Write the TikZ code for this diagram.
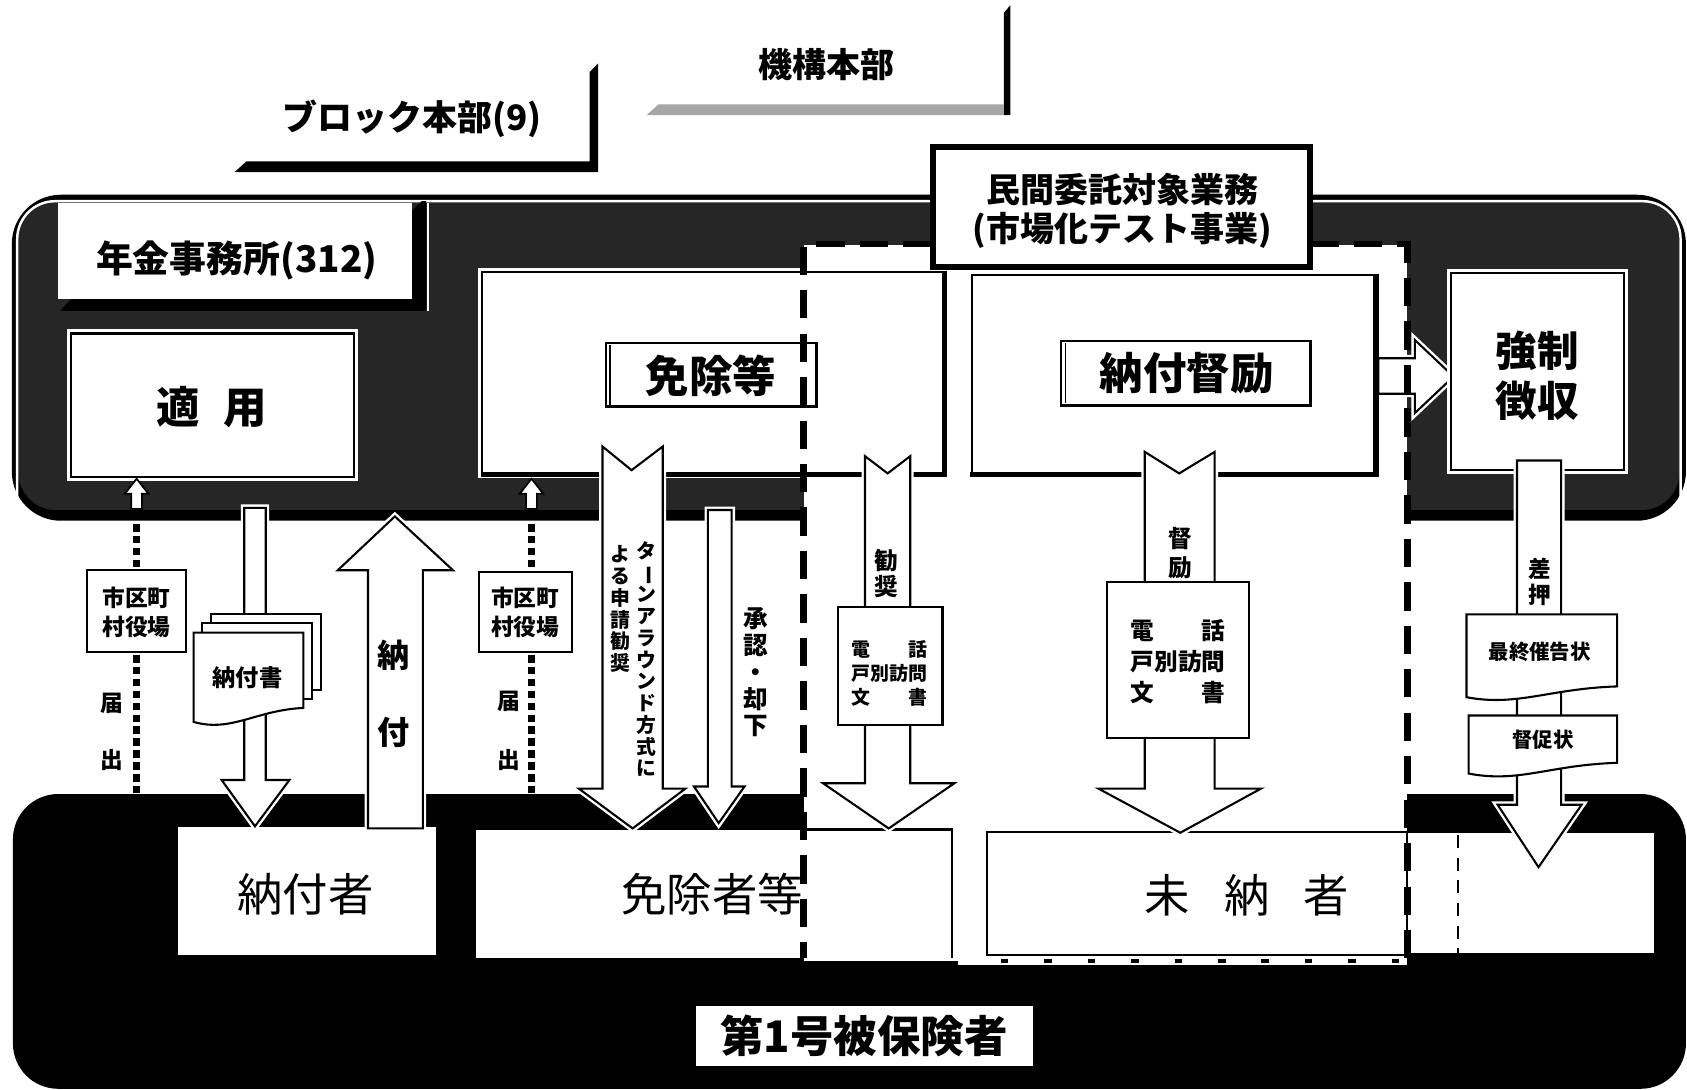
\documentclass[tikz,border=0pt]{standalone}
\usepackage{fontspec}
\setmainfont{Noto Sans CJK JP}
\usepackage{graphicx}
\colorlet{bandgray}{black!85}
\newcommand{\myfs}[2]{\fontsize{#1}{#2}\selectfont}
\newcommand{\vbar}{\rotatebox[origin=c]{-90}{ー}}
\begin{document}
\begin{tikzpicture}[x=0.02cm,y=-0.02cm,
  lbl/.style={inner sep=0pt, align=center, text=black},
  arrowbody/.style={draw=black, fill=white, line width=1.1pt, line join=miter, preaction={draw=white, line width=3.6pt}},
  whitebox/.style={draw=black, fill=white, line width=1.1pt},
  bigdash/.style={line width=3.4pt, dash pattern=on 15pt off 8pt},
  smalldash/.style={line width=1.4pt, dash pattern=on 7pt off 5pt},
  dotline/.style={line width=3.6pt, dash pattern=on 4pt off 2.3pt},
  smallup/.style={draw=black, fill=white, line width=0.9pt},
]
\useasboundingbox (0,0) rectangle (1568,1013);

% ---------- top tabs
\fill[black] (933,12) -- (939,5) -- (939,107) -- (933,107) -- cycle;
\fill[black!35] (601,107) -- (612,97) -- (933,97) -- (933,107) -- cycle;
\node[lbl, font=\myfs{18}{18}\bfseries] (kiko) at (768,60) {機構本部};

\fill[black] (548,67) -- (556,59) -- (556,160) -- (218,160) -- (229,150) -- (548,150) -- cycle;
\node[lbl, font=\myfs{18.5}{18.5}\bfseries] (block) at (383,110) {ブロック本部(9)};

% ---------- band (年金事務所)
\fill[black, rounded corners=26] (11,181) rectangle (1567,484);
\fill[bandgray, rounded corners=20] (17,187) rectangle (1561,474);
\draw[white, line width=1.3pt, rounded corners=20] (16,470) -- (16,187) -- (1562,187) -- (1562,470);

% ---------- bottom black region
\fill[black, rounded corners=24] (12,738) rectangle (1567,1012);

% ---------- white region of 市場化テスト
\fill[white] (747,228) rectangle (1308,893);

% ---------- 年金事務所 tab
\fill[black] (383,196) -- (392,187) -- (396,187) -- (396,289) -- (56,289) -- (66,278) -- (383,278) -- cycle;
\fill[white] (54,189) rectangle (383,278);
\draw[white, line width=0.8pt] (398,189) -- (398,289);
\node[lbl, font=\myfs{19.5}{19.5}\bfseries] (nenkin) at (220,242) {年金事務所(312)};

% ---------- 適用
\fill[white] (62,306) rectangle (333,447);
\draw[whitebox] (66,310) rectangle (329,443);
\node[lbl, font=\myfs{23}{23}\bfseries] (tekiyo) at (197,378) {適\hspace{0.55em}用};

% ---------- 免除等
\fill[white] (444,249) rectangle (881,444);
\draw[line width=1.1pt, fill=white] (448,253) rectangle (877,440);
\draw[line width=2.8pt] (878,252) -- (878,441) -- (447,441);
\draw[line width=1.3pt] (563,319) rectangle (759,378);
\draw[line width=0.6pt] (567,321) -- (567,376);
\node[lbl, font=\myfs{23}{23}\bfseries] (menjo) at (661,349) {免除等};

% ---------- arrow 納付督励 -> 強制徴収
\draw[arrowbody] (1281,333) -- (1315,333) -- (1315,316) -- (1351,350) -- (1315,384) -- (1315,366) -- (1281,366) -- cycle;

% ---------- 納付督励
\draw[line width=1.1pt, fill=white] (903,256) rectangle (1278,440);
\draw[line width=2.8pt] (1279,255) -- (1279,441) -- (902,441);
\draw[line width=1.3pt] (986,317) rectangle (1218,377);
\draw[line width=0.6pt] (990,319) -- (990,375);
\node[lbl, font=\myfs{23}{23}\bfseries] (nofutoku) at (1103,347) {納付督励};

% ---------- 強制徴収
\fill[white] (1345,250) rectangle (1513,441);
\draw[whitebox] (1349,254) rectangle (1509,437);
\node[lbl, font=\myfs{22}{26.7}\bfseries] (kyosei) at (1429,349) {強制\\徴収};

% ---------- 民間委託
\draw[line width=3.2pt, fill=white] (867,137) rectangle (1218,248);
\node[lbl, font=\myfs{18}{21}\bfseries] (minkan) at (1043,196) {民間委託対象業務\\(市場化テスト事業)};

% ---------- bottom boxes
\fill[white] (165,769) rectangle (405,888);
\node[lbl, font=\myfs{24}{24}] (nofusha) at (284,831) {納付者};
\fill[white] (442,771) rectangle (885,890);
\draw[line width=1.1pt] (747,771) -- (885,771) -- (885,890);
\node[lbl, font=\myfs{24}{24}] (menjosha) at (662,831) {免除者等};
\draw[line width=1.1pt, fill=white] (917,773) rectangle (1308,888);
\fill[white] (890,889) rectangle (1308,897);
\draw[black, line width=2pt, dash pattern=on 4pt off 19pt] (930,893.5) -- (1300,893.5);
\node[lbl, font=\myfs{24}{24}] (minosha) at (1159,832) {未\hspace{0.75em}納\hspace{0.75em}者};
\fill[white] (1309,774) rectangle (1537,886);
\fill[white] (647,935) rectangle (960,991);
\node[lbl, font=\myfs{23}{23}\bfseries] (hihoken) at (803,963) {第1号被保険者};

% ---------- ターンアラウンド arrow
\draw[arrowbody] (560,415) -- (587,437) -- (616,415) -- (616,733) -- (637,733) -- (588,770) -- (538,733) -- (560,733) -- cycle;
\node[lbl, anchor=north, font=\myfs{10.5}{11.5}\bfseries] (turn1) at (601,503) {タ\\\vbar\\ン\\ア\\ラ\\ウ\\ン\\ド\\方\\式\\に};
\node[lbl, anchor=north, font=\myfs{10.5}{11.5}\bfseries] (turn2) at (577,507) {よ\\る\\申\\請\\勧\\奨};

% ---------- 承認・却下 arrow
\draw[arrowbody] (658,474) -- (680,474) -- (680,731) -- (692,731) -- (668,765) -- (645,731) -- (658,731) -- cycle;
\node[lbl, font=\myfs{13}{14.2}\bfseries] (shonin) at (702,625) {承\\認\\・\\却\\下};

% ---------- 勧奨 arrow
\draw[arrowbody] (804,424) -- (825,440) -- (846,424) -- (846,728) -- (887,728) -- (826,770) -- (765,728) -- (804,728) -- cycle;
\node[lbl, font=\myfs{12.5}{14.2}\bfseries] (kansho) at (824,533) {勧\\奨};
\draw[whitebox] (779,564) rectangle (876,674);
\node[lbl, font=\myfs{10}{12.5}\bfseries] (kanbox) at (827,626) {電　　話\\戸別訪問\\文　　書};

% ---------- 督励 arrow
\draw[arrowbody] (1064,420) -- (1096,440) -- (1129,420) -- (1129,733) -- (1172,733) -- (1097,774) -- (1021,733) -- (1064,733) -- cycle;
\node[lbl, font=\myfs{12.5}{15.3}\bfseries] (tokurei) at (1097,514) {督\\励};
\draw[whitebox] (1029,541) rectangle (1161,686);
\node[lbl, font=\myfs{12.5}{16.5}\bfseries] (tokubox) at (1095,615) {電　　話\\戸別訪問\\文　　書};

% ---------- 差押 arrow
\draw[arrowbody] (1410,428) -- (1451,428) -- (1451,748) -- (1470,748) -- (1430,806) -- (1392,748) -- (1410,748) -- cycle;
\node[lbl, font=\myfs{12}{13.6}\bfseries] (sashiosae) at (1431,541) {差\\押};
\draw[whitebox] (1363,571) -- (1503,571) -- (1503,638) .. controls (1440,640) and (1410,657) .. (1363,648) -- cycle;
\node[lbl, font=\myfs{10.8}{10.8}\bfseries] (saishu) at (1431,606) {最終催告状};
\draw[whitebox] (1365,665) -- (1503,665) -- (1503,709) .. controls (1440,711) and (1412,728) .. (1365,719) -- cycle;
\node[lbl, font=\myfs{10.8}{10.8}\bfseries] (tokusoku) at (1434,688) {督促状};

% ---------- 納付書 arrow and documents
\draw[arrowbody] (227,472) -- (247,472) -- (247,725) -- (269,725) -- (237,768) -- (206,725) -- (227,725) -- cycle;
\draw[whitebox] (196,571) rectangle (298,641);
\draw[whitebox] (188,579) rectangle (290,650);
\draw[whitebox] (180,588) -- (282,588) -- (282,658) .. controls (238,660) and (215,681) .. (180,671) -- cycle;
\node[lbl, font=\myfs{12.3}{12.3}\bfseries] (nofusho) at (230,630) {納付書};

% ---------- 納付 up arrow
\draw[arrowbody] (342,770) -- (342,530) -- (314,530) -- (367,480) -- (421,530) -- (393,530) -- (393,770) -- cycle;
\node[lbl, font=\myfs{17}{17}\bfseries] (nou) at (366,609) {納};
\node[lbl, font=\myfs{17}{17}\bfseries] (fu) at (366,681) {付};

% ---------- 届出 lines
\draw[smallup] (127,445) -- (138,459) -- (132,459) -- (132,473) -- (122,473) -- (122,459) -- (116,459) -- cycle;
\draw[smallup] (494,445) -- (505,459) -- (499,459) -- (499,473) -- (489,473) -- (489,459) -- (483,459) -- cycle;
\draw[dotline] (127,487) -- (127,737);
\draw[dotline] (494,487) -- (494,737);
\draw[whitebox] (81,530) rectangle (173,606);
\node[lbl, font=\myfs{12}{15.4}\bfseries] (shiku1) at (127,569) {市区町\\村役場};
\draw[whitebox] (445,532) rectangle (532,606);
\node[lbl, font=\myfs{12}{15.4}\bfseries] (shiku2) at (488,569) {市区町\\村役場};
\node[lbl, font=\myfs{12}{12}\bfseries] (todoke1) at (104,654) {届};
\node[lbl, font=\myfs{12}{12}\bfseries] (de1) at (104,706) {出};
\node[lbl, font=\myfs{12}{12}\bfseries] (todoke2) at (473,652) {届};
\node[lbl, font=\myfs{12}{12}\bfseries] (de2) at (473,706) {出};

% ---------- dashed boundaries
\draw[bigdash] (866,227) -- (747,227) -- (747,890);
\draw[bigdash] (1218,227) -- (1308,227) -- (1308,890);
\draw[smalldash] (1355,776) -- (1355,886);
\end{tikzpicture}
\end{document}
